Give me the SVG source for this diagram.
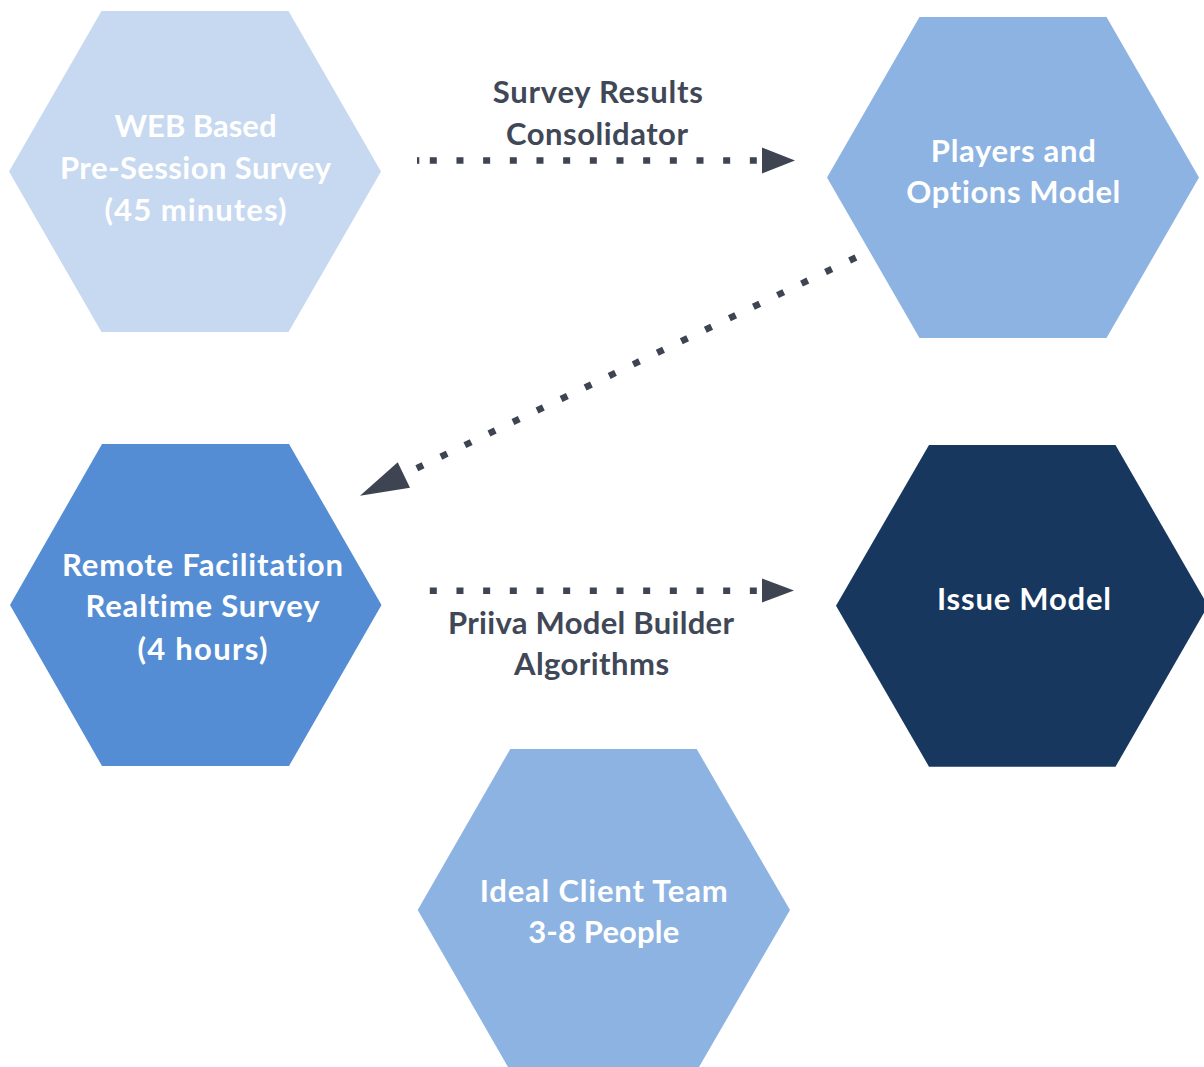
<svg xmlns="http://www.w3.org/2000/svg" width="1204" height="1067" viewBox="0 0 1204 1067">
  <style>
    .hex-text { font-family: Lato, "Open Sans", "Liberation Sans", sans-serif; font-weight: 700; font-size: 31px; fill: #ffffff; text-anchor: middle; font-variant-ligatures: none; }
    .edge-label { font-family: Lato, "Open Sans", "Liberation Sans", sans-serif; font-weight: 700; font-size: 31px; fill: #404756; text-anchor: middle; font-variant-ligatures: none; }
    .dots { fill: none; stroke: #3e4452; stroke-width: 6.6; stroke-dasharray: 7 19.67; stroke-linecap: butt; }
    .head { fill: #3e4452; }
    .tint80 { fill: #c6d9f0; }
    .tint60 { fill: #8db3e2; }
    .tint40 { fill: #548dd4; }
    .shade25 { fill: #17375e; }
  </style>
  <rect width="1204" height="1067" fill="#ffffff"/>

  <!-- process hexagons -->
  <g id="node-web-survey">
    <polygon class="tint80" points="9,171.5 101.5,11 288.5,11 381,171.5 288.5,332 101.5,332"/>
    <text class="hex-text" x="195.5" y="137" textLength="162" lengthAdjust="spacing">WEB Based</text>
    <text class="hex-text" x="195.5" y="179" textLength="271" lengthAdjust="spacing">Pre-Session Survey</text>
    <text class="hex-text" x="195.5" y="221" textLength="182" lengthAdjust="spacing">(45 minutes)</text>
  </g>

  <g id="node-players-options">
    <polygon class="tint60" points="827,177.5 919.5,17 1106.5,17 1199,177.5 1106.5,338 919.5,338"/>
    <text class="hex-text" x="1013.3" y="161.5" textLength="165" lengthAdjust="spacing">Players and</text>
    <text class="hex-text" x="1013.3" y="203" textLength="214" lengthAdjust="spacing">Options Model</text>
  </g>

  <g id="node-remote-facilitation">
    <polygon class="tint40" points="10,605 102,444 289,444 381.5,605 289,766 102,766"/>
    <text class="hex-text" x="202.5" y="575.7" textLength="281" lengthAdjust="spacing">Remote Facilitation</text>
    <text class="hex-text" x="202.5" y="617.3" textLength="234" lengthAdjust="spacing">Realtime Survey</text>
    <text class="hex-text" x="202.5" y="659.5" textLength="130" lengthAdjust="spacing">(4 hours)</text>
  </g>

  <g id="node-issue-model">
    <polygon class="shade25" points="836,605.8 929,445 1115.5,445 1208,605.8 1115.5,766.7 929,766.7"/>
    <text class="hex-text" x="1024" y="610" textLength="174" lengthAdjust="spacing">Issue Model</text>
  </g>

  <g id="node-client-team">
    <polygon class="tint60" points="417.7,910 510.3,749 696.7,749 790,910 696.7,1071 510.3,1071"/>
    <text class="hex-text" x="603.7" y="902.3" textLength="248" lengthAdjust="spacing">Ideal Client Team</text>
    <text class="hex-text" x="603.7" y="943.3" textLength="151" lengthAdjust="spacing">3-8 People</text>
  </g>

  <!-- dotted flow connectors -->
  <g id="connectors">
    <line class="dots" x1="417" y1="160.5" x2="419.3" y2="160.5" stroke-dasharray="none"/>
    <line class="dots" x1="429.8" y1="160.5" x2="756.8" y2="160.5"/>
    <polygon class="head" points="762,147.5 795,160.5 762,173.5"/>

    <line class="dots" x1="855.9" y1="257.5" x2="416.8" y2="468.2"/>
    <polygon class="head" points="360,495.7 397.7,462.3 410,487.7"/>

    <line class="dots" x1="429.8" y1="590.7" x2="756.8" y2="590.7"/>
    <polygon class="head" points="762,578.5 794,590.5 762,602.5"/>
  </g>

  <!-- connector captions -->
  <g id="edge-labels">
    <text class="edge-label" x="597.8" y="102.7" textLength="210" lengthAdjust="spacing">Survey Results</text>
    <text class="edge-label" x="597" y="145" textLength="182" lengthAdjust="spacing">Consolidator</text>
    <text class="edge-label" x="591" y="634" textLength="286" lengthAdjust="spacing">Priiva Model Builder</text>
    <text class="edge-label" x="591.5" y="675" textLength="155" lengthAdjust="spacing">Algorithms</text>
  </g>
</svg>
